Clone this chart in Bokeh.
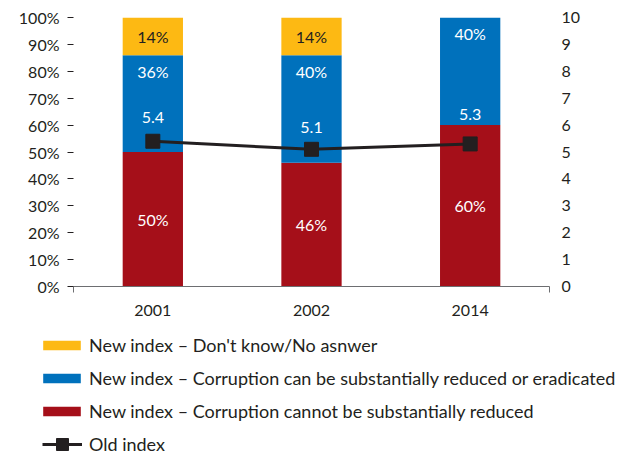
from bokeh.plotting import figure
from bokeh.models import (Range1d, LinearAxis, FixedTicker, ColumnDataSource, Legend,
                          LegendItem, PrintfTickFormatter)
from bokeh.embed import file_html
from bokeh.resources import INLINE
from bokeh.core.properties import value

# ---- data ----
years = ["2001", "2002", "2014"]
cannot_reduce = [50, 46, 60]      # New index - Corruption cannot be substantially reduced
can_reduce = [36, 40, 40]         # New index - Corruption can be substantially reduced or eradicated
dont_know = [14, 14, 0]           # New index - Don't know/No answer
old_index = [5.4, 5.1, 5.3]       # Old index (right axis)
pct_ticks = list(range(0, 101, 10))
idx_ticks = list(range(0, 11))
legend_labels = [
    "New index \u2013 Don't know/No asnwer",
    "New index \u2013 Corruption can be substantially reduced or eradicated",
    "New index \u2013 Corruption cannot be substantially reduced",
    "Old index",
]

# ---- style ----
YELLOW = "#FDB913"
BLUE = "#0071BC"
RED = "#A50F19"
DARK = "#231F20"
AXIS_GREY = "#6D6E71"
FONT = "Lato"
FS = "16px"
LFS = "18px"
idx_label_dy = [-24, -22, -29]

n = len(years)
xs = [i + 0.5 for i in range(n)]
blue_top = [r + b for r, b in zip(cannot_reduce, can_reduce)]
yellow_top = [t + y for t, y in zip(blue_top, dont_know)]

src = ColumnDataSource(dict(
    x=xs, red=cannot_reduce, blue_top=blue_top, yellow_top=yellow_top,
    red_mid=[r / 2 for r in cannot_reduce],
    red_txt=[f"{v}%" for v in cannot_reduce],
    blue_txt=[f"{v}%" for v in can_reduce],
    old=old_index, old_txt=[f"{v}" for v in old_index], old_dy=idx_label_dy,
))
yk = [i for i, v in enumerate(dont_know) if v > 0]
ysrc = ColumnDataSource(dict(
    x=[xs[i] for i in yk],
    y=[blue_top[i] + dont_know[i] / 2 for i in yk],
    txt=[f"{dont_know[i]}%" for i in yk],
))

p = figure(width=634, height=325, x_range=Range1d(0, n), y_range=Range1d(0, 100),
           output_backend="svg", toolbar_location=None,
           x_axis_location=None, y_axis_location=None,
           min_border_left=73, min_border_right=85, min_border_top=17, min_border_bottom=39)
p.extra_y_ranges = {"idx": Range1d(0, 10)}
p.outline_line_color = None
p.background_fill_color = "white"
p.border_fill_color = "white"
p.grid.visible = False

W = 0.38
r_red = p.vbar(x="x", bottom=0, top="red", width=W, fill_color=RED, line_color=None, source=src)
r_blue = p.vbar(x="x", bottom="red", top="blue_top", width=W, fill_color=BLUE, line_color=None, source=src)
r_yel = p.vbar(x="x", bottom="blue_top", top="yellow_top", width=W, fill_color=YELLOW, line_color=None, source=src)

r_line = p.line("x", "old", y_range_name="idx", line_width=3, line_color=DARK, source=src)
r_pts = p.scatter("x", "old", y_range_name="idx", marker="square", size=14,
                  fill_color=DARK, line_color=DARK, source=src)

common = dict(text_font=value(FONT), text_font_size=FS, text_align="center", text_baseline="middle")
p.text(x="x", y="red_mid", text="red_txt", text_color="white", source=src, **common)
p.text(x="x", y="blue_top", text="blue_txt", text_color="white", y_offset=16, source=src, **common)
p.text(x="x", y="y", text="txt", text_color=DARK, source=ysrc, **common)
p.text(x="x", y="old", text="old_txt", text_color="white", y_offset="old_dy",
       y_range_name="idx", source=src, **common)

# axes
xaxis = LinearAxis(ticker=FixedTicker(ticks=xs, minor_ticks=[0, n]),
                   major_label_overrides={x: y for x, y in zip(xs, years)},
                   major_tick_in=0, major_tick_out=0, minor_tick_in=0, minor_tick_out=6,
                   axis_line_color=AXIS_GREY, minor_tick_line_color=AXIS_GREY,
                   major_tick_line_color=None, major_label_standoff=12,
                   major_label_text_font=FONT, major_label_text_font_size=FS,
                   major_label_text_color=DARK)
p.add_layout(xaxis, "below")

yaxis = LinearAxis(ticker=FixedTicker(ticks=pct_ticks, minor_ticks=[]),
                   formatter=PrintfTickFormatter(format="%d%%"),
                   axis_line_color=None, major_tick_in=0, major_tick_out=6,
                   minor_tick_in=0, minor_tick_out=0, major_tick_line_color=DARK,
                   major_label_standoff=8, major_label_text_font=FONT,
                   major_label_text_font_size=FS, major_label_text_color=DARK)
p.add_layout(yaxis, "left")

raxis = LinearAxis(y_range_name="idx", ticker=FixedTicker(ticks=idx_ticks, minor_ticks=[]),
                   axis_line_color=None, major_tick_line_color=None, major_tick_in=0,
                   major_tick_out=0, minor_tick_in=0, minor_tick_out=0,
                   major_label_standoff=12, major_label_text_font=FONT,
                   major_label_text_font_size=FS, major_label_text_color=DARK)
p.add_layout(raxis, "right")

# ---- legend figure (below the chart) ----
q = figure(width=634, height=129, x_range=Range1d(0, 1), y_range=Range1d(0, 1),
           output_backend="svg", toolbar_location=None,
           x_axis_location=None, y_axis_location=None,
           min_border_left=0, min_border_right=0, min_border_top=0, min_border_bottom=0)
q.outline_line_color = None
q.grid.visible = False
q.background_fill_color = "white"
q.border_fill_color = "white"
# legend proxies: same series, hidden in this panel
l_yel = q.vbar(x="x", bottom="blue_top", top="yellow_top", width=W, fill_color=YELLOW,
               line_color=None, source=src, visible=False)
l_blue = q.vbar(x="x", bottom="red", top="blue_top", width=W, fill_color=BLUE,
                line_color=None, source=src, visible=False)
l_red = q.vbar(x="x", bottom=0, top="red", width=W, fill_color=RED,
               line_color=None, source=src, visible=False)
l_line = q.line("x", "old", line_width=3, line_color=DARK, source=src, visible=False)
l_pts = q.scatter("x", "old", marker="square", fill_color=DARK, line_color=DARK,
                  source=src, visible=False)

leg_style = dict(border_line_color=None, background_fill_alpha=0, padding=0, margin=0,
                 inactive_fill_alpha=0, click_policy="none",
                 label_text_font=FONT, label_text_font_size=LFS, label_text_color=DARK)
leg1 = Legend(items=[
    LegendItem(label=legend_labels[0], renderers=[l_yel]),
    LegendItem(label=legend_labels[1], renderers=[l_blue]),
    LegendItem(label=legend_labels[2], renderers=[l_red]),
], location=(38, 32), glyph_width=47, glyph_height=12, label_standoff=4,
   label_height=22, spacing=11, **leg_style)
leg2 = Legend(items=[LegendItem(label=legend_labels[3], renderers=[l_line, l_pts])],
              location=(42, -5), glyph_width=40, glyph_height=30, label_standoff=7,
              label_height=22, spacing=0, **leg_style)
q.add_layout(leg1)
q.add_layout(leg2)

open("out.html", "w").write(file_html([p, q], INLINE))
